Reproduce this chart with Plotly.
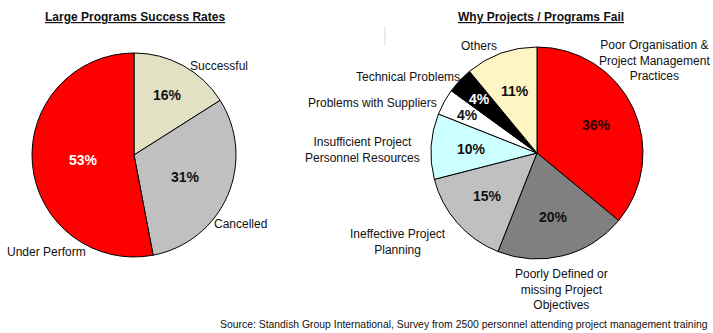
import math
import plotly.graph_objects as go

# ---- data ----
left_labels = ["Successful", "Cancelled", "Under Perform"]
left_values = [16, 31, 53]
left_colors = ["#E3E1C3", "#C0C0C0", "#FF0000"]
left_text_colors = ["#111111", "#111111", "#FFFFFF"]

right_labels = ["Poor Organisation &<br>Project Management<br>Practices",
                "Poorly Defined or<br>missing Project<br>Objectives",
                "Ineffective Project<br>Planning",
                "Insufficient Project<br>Personnel Resources",
                "Problems with Suppliers",
                "Technical Problems",
                "Others"]
right_values = [36, 20, 15, 10, 4, 4, 11]
right_colors = ["#FF0000", "#808080", "#C0C0C0", "#CCFFFF", "#FFFFFF", "#000000", "#FFF4C4"]
right_text_colors = ["#330000", "#111111", "#111111", "#111111", "#111111", "#FFFFFF", "#111111"]

W, H = 713, 333
# pie geometry (pixels from top-left)
L_CX, L_CY, L_R = 134, 155, 102
R_CX, R_CY, R_R = 537, 153, 106

fig = go.Figure()

fig.add_trace(go.Pie(
    labels=left_labels, values=left_values, sort=False, direction="clockwise", rotation=0,
    marker=dict(colors=left_colors, line=dict(color="#000000", width=1)),
    text=[f"{v}%" for v in left_values], textinfo="text", textposition="inside",
    insidetextorientation="horizontal",
    textfont=dict(family="Liberation Sans, Arial", size=14, color=left_text_colors, weight="bold"),
    domain=dict(x=[(L_CX - L_R) / W, (L_CX + L_R) / W],
                y=[(H - L_CY - L_R) / H, (H - L_CY + L_R) / H]),
    showlegend=False, hoverinfo="label+percent",
))

fig.add_trace(go.Pie(
    labels=right_labels, values=right_values, sort=False, direction="clockwise", rotation=0,
    marker=dict(colors=right_colors, line=dict(color="#000000", width=1)),
    textinfo="none",
    domain=dict(x=[(R_CX - R_R) / W, (R_CX + R_R) / W],
                y=[(H - R_CY - R_R) / H, (H - R_CY + R_R) / H]),
    showlegend=False, hoverinfo="label+percent",
))

# percentage labels for the right pie, placed at each slice's mid-angle
# (narrow slices get their label pushed further out, as in the original)
total = sum(right_values)
cum = 0
for v, c in zip(right_values, right_text_colors):
    mid = (cum + v / 2) / total * 2 * math.pi
    cum += v
    frac = 0.75 if v / total < 0.05 else 0.62
    px = R_CX + frac * R_R * math.sin(mid)
    py = R_CY - frac * R_R * math.cos(mid)
    fig.add_annotation(text=f"<b>{v}%</b>", x=px / W, y=1 - py / H, xref="paper", yref="paper",
                       showarrow=False, xanchor="center", yanchor="middle",
                       font=dict(family="Liberation Sans, Arial", size=14, color=c))

lab_font = dict(family="Liberation Sans, Arial", size=12, color="#111111")
outside = [
    ("Successful", 219, 66),
    ("Cancelled", 240, 224),
    ("Under Perform", 46, 252),
    ("Others", 479, 46),
    ("Technical Problems", 408, 77),
    ("Problems with Suppliers", 372, 103),
    ("Insufficient Project<br>Personnel Resources", 362, 150),
    ("Ineffective Project<br>Planning", 398, 242),
    ("Poorly Defined or<br>missing Project<br>Objectives", 561, 289),
    ("Poor Organisation &<br>Project Management<br>Practices", 654, 61),
]
for t, x, y in outside:
    fig.add_annotation(text=t, x=x / W, y=1 - y / H, xref="paper", yref="paper",
                       showarrow=False, font=lab_font, align="center",
                       xanchor="center", yanchor="middle")

title_font = dict(family="Liberation Sans, Arial", size=12, color="#111111", weight="bold")
fig.add_annotation(text="<u>Large Programs Success Rates</u>", x=135 / W, y=1 - 17 / H,
                   xref="paper", yref="paper", showarrow=False, font=title_font,
                   xanchor="center", yanchor="middle")
fig.add_annotation(text="<u>Why Projects / Programs Fail</u>", x=541 / W, y=1 - 17 / H,
                   xref="paper", yref="paper", showarrow=False, font=title_font,
                   xanchor="center", yanchor="middle")
fig.add_annotation(text="Source: Standish Group International, Survey from 2500 personnel attending project management training",
                   x=464 / W, y=1 - 324 / H, xref="paper", yref="paper", showarrow=False,
                   font=dict(family="Liberation Sans, Arial", size=10.4, color="#111111"),
                   xanchor="center", yanchor="middle")

# faint vertical rule present in the source image
fig.add_shape(type="line", xref="paper", yref="paper", x0=385 / W, x1=385 / W,
              y0=1 - 27 / H, y1=1 - 45 / H, line=dict(color="#D8D8D8", width=1))

fig.update_layout(width=W, height=H, margin=dict(l=0, r=0, t=0, b=0),
                  paper_bgcolor="#FFFFFF", plot_bgcolor="#FFFFFF")

fig.write_html("out.html")
